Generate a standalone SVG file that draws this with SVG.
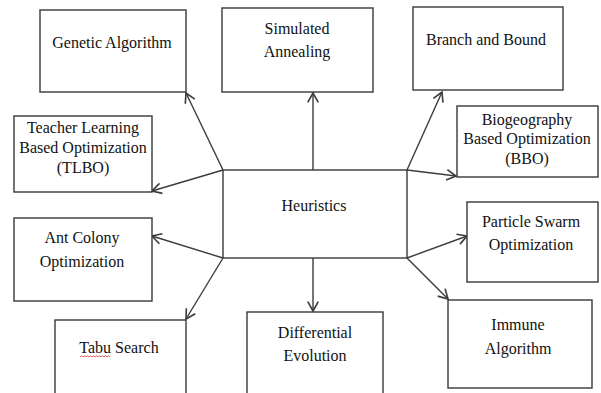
<svg xmlns="http://www.w3.org/2000/svg" width="601" height="393" viewBox="0 0 601 393">
  <style>
    .box { fill: #ffffff; stroke: #383838; stroke-width: 1.4; }
    .lbl { font-size: 16px; fill: #111111; text-anchor: middle; }
    .link { stroke: #3c3c3c; stroke-width: 1.4; fill: none; marker-end: url(#arrow); }
    .squiggle { stroke: #e03030; stroke-width: 0.8; fill: none; }
  </style>
  <defs>
    <marker id="arrow" markerUnits="userSpaceOnUse" markerWidth="14" markerHeight="14" viewBox="-10 -6 12 12" refX="0" refY="0" orient="auto">
      <path d="M-8,-4.5 L0,0 L-8,4.5" fill="none" stroke="#3c3c3c" stroke-width="1.4"/>
    </marker>
  </defs>
  <rect width="601" height="393" fill="#ffffff"/>

  <!-- connectors from the central box -->
  <g id="connectors">
    <line class="link" x1="223" y1="170" x2="186" y2="93"/>
    <line class="link" x1="223" y1="170" x2="152" y2="191"/>
    <line class="link" x1="313" y1="170" x2="313" y2="93"/>
    <line class="link" x1="407" y1="170" x2="442" y2="92"/>
    <line class="link" x1="407" y1="170" x2="456" y2="176"/>
    <line class="link" x1="223" y1="258" x2="152" y2="236"/>
    <line class="link" x1="223" y1="258" x2="186" y2="319"/>
    <line class="link" x1="313" y1="258" x2="313" y2="311"/>
    <line class="link" x1="407" y1="258" x2="467" y2="236"/>
    <line class="link" x1="407" y1="258" x2="448" y2="299"/>
  </g>

  <g font-family="'Liberation Serif', 'DejaVu Serif', serif">
  <g id="heuristics">
    <rect class="box" x="223" y="170" width="184" height="88"/>
    <text class="lbl" x="314" y="211">Heuristics</text>
  </g>

  <g id="genetic-algorithm">
    <rect class="box" x="40" y="10" width="146" height="82"/>
    <text class="lbl" x="112" y="48">Genetic Algorithm</text>
  </g>

  <g id="simulated-annealing">
    <rect class="box" x="222" y="8" width="151" height="84"/>
    <text class="lbl" x="297" y="34">Simulated</text>
    <text class="lbl" x="297" y="57">Annealing</text>
  </g>

  <g id="branch-and-bound">
    <rect class="box" x="413" y="7" width="150" height="83"/>
    <text class="lbl" x="486" y="45">Branch and Bound</text>
  </g>

  <g id="tlbo">
    <rect class="box" x="14" y="116" width="138" height="76"/>
    <text class="lbl" x="83" y="133">Teacher Learning</text>
    <text class="lbl" x="83" y="153">Based Optimization</text>
    <text class="lbl" x="83" y="173">(TLBO)</text>
  </g>

  <g id="bbo">
    <rect class="box" x="457" y="106" width="141" height="71"/>
    <text class="lbl" x="527" y="125">Biogeography</text>
    <text class="lbl" x="527" y="144">Based Optimization</text>
    <text class="lbl" x="527" y="164">(BBO)</text>
  </g>

  <g id="ant-colony">
    <rect class="box" x="14" y="218" width="138" height="83"/>
    <text class="lbl" x="82" y="243">Ant Colony</text>
    <text class="lbl" x="82" y="267">Optimization</text>
  </g>

  <g id="particle-swarm">
    <rect class="box" x="467" y="202" width="131" height="80"/>
    <text class="lbl" x="531" y="227">Particle Swarm</text>
    <text class="lbl" x="531" y="250">Optimization</text>
  </g>

  <g id="tabu-search">
    <rect class="box" x="55" y="320" width="131" height="85"/>
    <text class="lbl" x="119" y="353">Tabu Search</text>
    <path class="squiggle" d="M80,357 l1.5,-1.2 l1.5,1.2 l1.5,-1.2 l1.5,1.2 l1.5,-1.2 l1.5,1.2 l1.5,-1.2 l1.5,1.2 l1.5,-1.2 l1.5,1.2 l1.5,-1.2 l1.5,1.2 l1.5,-1.2 l1.5,1.2 l1.5,-1.2 l1.5,1.2 l1.5,-1.2 l1.5,1.2 l1.5,-1.2 l1.5,1.2"/>
  </g>

  <g id="differential-evolution">
    <rect class="box" x="247" y="312" width="136" height="90"/>
    <text class="lbl" x="315" y="338">Differential</text>
    <text class="lbl" x="315" y="361">Evolution</text>
  </g>

  <g id="immune-algorithm">
    <rect class="box" x="448" y="300" width="144" height="88"/>
    <text class="lbl" x="518" y="330">Immune</text>
    <text class="lbl" x="518" y="354">Algorithm</text>
  </g>
  </g>
</svg>
